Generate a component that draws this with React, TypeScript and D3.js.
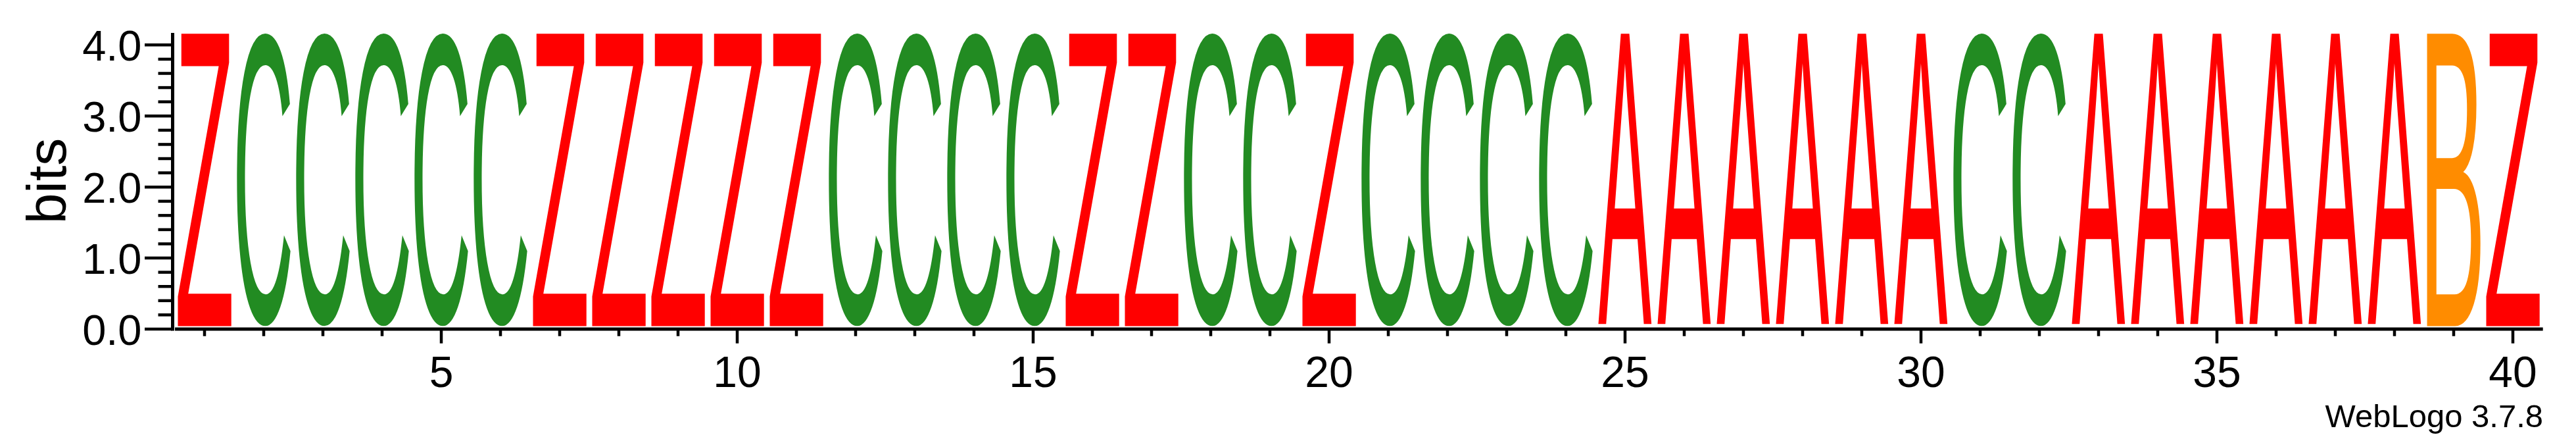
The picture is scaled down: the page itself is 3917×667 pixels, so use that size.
import React, { useMemo } from "react";
import * as d3 from "d3";

// ---- data ----
const residues: string[] = [
  "Z", "C", "C", "C", "C", "C", "Z", "Z", "Z", "Z",
  "Z", "C", "C", "C", "C", "Z", "Z", "C", "C", "Z",
  "C", "C", "C", "C", "A", "A", "A", "A", "A", "A",
  "C", "C", "A", "A", "A", "A", "A", "A", "B", "Z",
];
const stackBits: number[] = [
  4.17, 4.17, 4.17, 4.17, 4.17, 4.17, 4.17, 4.17, 4.17, 4.17,
  4.17, 4.17, 4.17, 4.17, 4.17, 4.17, 4.17, 4.17, 4.17, 4.17,
  4.17, 4.17, 4.17, 4.17, 4.17, 4.17, 4.17, 4.17, 4.17, 4.17,
  4.17, 4.17, 4.17, 4.17, 4.17, 4.17, 4.17, 4.17, 4.17, 4.17,
];
const yMaxBits = 4.17;
const yMajorTicks: number[] = [0, 1, 2, 3, 4];
const yMinorTicks: number[] = [0.2, 0.4, 0.6, 0.8, 1.2, 1.4, 1.6, 1.8, 2.2, 2.4, 2.6, 2.8, 3.2, 3.4, 3.6, 3.8];
const xLabelTicks: number[] = [5, 10, 15, 20, 25, 30, 35, 40];
const yAxisTitle = "bits";
const footer = "WebLogo 3.7.8";
const residueColors: Record<string, string> = {
  A: "#ff0000",
  Z: "#ff0000",
  C: "#228b22",
  B: "#ff8c00",
};

const W = 3917;
const H = 667;
const FONT = "'Liberation Sans', Arial, Helvetica, sans-serif";

function measureGlyph(ch: string) {
  const canvas = document.createElement("canvas");
  const ctx = canvas.getContext("2d")!;
  ctx.font = `400 200px "Liberation Sans"`;
  ctx.textAlign = "left";
  ctx.textBaseline = "alphabetic";
  const m = ctx.measureText(ch);
  return {
    left: m.actualBoundingBoxLeft,
    right: m.actualBoundingBoxRight,
    ascent: m.actualBoundingBoxAscent,
    descent: m.actualBoundingBoxDescent,
  };
}

export default function App() {
  const positions = residues.map((_, i) => i + 1);
  const x = d3.scaleLinear().domain([0.5, positions.length + 0.5]).range([266, 3866]);
  const y = d3.scaleLinear().domain([0, yMaxBits]).range([500, 50]);
  const step = x(2) - x(1);
  const glyphW = step * 0.906;

  const metrics = useMemo(() => {
    const out: Record<string, ReturnType<typeof measureGlyph>> = {};
    Array.from(new Set(residues)).forEach((c) => (out[c] = measureGlyph(c)));
    return out;
  }, []);

  return (
    <svg
      width={W}
      height={H}
      viewBox={`0 0 ${W} ${H}`}
      style={{ position: "absolute", left: 0, top: 0, display: "block", background: "#fff" }}
    >
      {/* letters */}
      <g>
        {residues.map((ch, i) => {
          const m = metrics[ch];
          const cx = x(positions[i]);
          const x0 = cx - glyphW / 2;
          const y0 = y(stackBits[i]);
          const y1 = y(0) - 4.5;
          const sx = glyphW / (m.left + m.right);
          const sy = (y1 - y0) / (m.ascent + m.descent);
          return (
            <text
              key={i}
              x={0}
              y={0}
              fontFamily={FONT}
              fontSize={200}
              fill={residueColors[ch]}
              transform={`translate(${x0},${y0}) scale(${sx},${sy}) translate(${m.left},${m.ascent})`}
            >
              {ch}
            </text>
          );
        })}
      </g>

      {/* y axis */}
      <g stroke="#000" strokeWidth={4.5}>
        <line x1={262.5} x2={262.5} y1={y(yMaxBits)} y2={502.5} strokeWidth={5} />
        {yMajorTicks.map((t) => (
          <line key={"M" + t} x1={220} x2={262} y1={y(t)} y2={y(t)} />
        ))}
        {yMinorTicks.map((t) => (
          <line key={"m" + t} x1={240.5} x2={262} y1={y(t)} y2={y(t)} />
        ))}
      </g>
      <g fontFamily={FONT} fontSize={65} fill="#000" textAnchor="end">
        {yMajorTicks.map((t) => (
          <text key={t} x={215.5} y={y(t) + 23.7}>
            {d3.format(".1f")(t)}
          </text>
        ))}
      </g>
      <text
        fontFamily={FONT}
        fontSize={84}
        textAnchor="middle"
        transform={`translate(100,${(y(0) + y(yMaxBits)) / 2}) rotate(-90)`}
      >
        {yAxisTitle}
      </text>

      {/* x axis */}
      <g stroke="#000" strokeWidth={4.5}>
        <line x1={x.range()[0]} x2={x.range()[1] + 0.7} y1={500} y2={500} strokeWidth={5} />
        {positions.map((p) => (
          <line
            key={p}
            x1={x(p)}
            x2={x(p)}
            y1={500}
            y2={xLabelTicks.includes(p) ? 521.7 : 510.7}
          />
        ))}
      </g>
      <g fontFamily={FONT} fontSize={66} fill="#000" textAnchor="middle">
        {xLabelTicks.map((p) => (
          <text key={p} x={x(p)} y={588.3}>
            {p}
          </text>
        ))}
      </g>

      <text x={3867} y={649.3} fontFamily={FONT} fontSize={49} textAnchor="end" fill="#000">
        {footer}
      </text>
    </svg>
  );
}
